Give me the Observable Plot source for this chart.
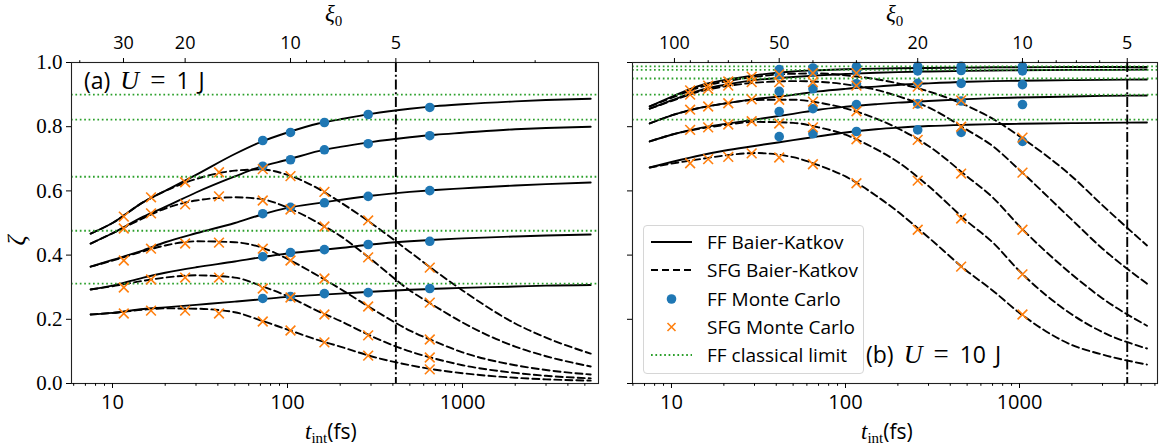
<!DOCTYPE html>
<html><head><meta charset="utf-8">
<script src="https://cdn.jsdelivr.net/npm/d3@7"></script>
<script src="https://cdn.jsdelivr.net/npm/@observablehq/plot@0.6"></script>
<style>
body{margin:0;background:#fff;}
#wrap{position:relative;width:1159px;height:446px;overflow:hidden;background:#fff;}
.p{position:absolute;top:0;}
.lbl{position:absolute;white-space:nowrap;color:#000;line-height:1;}
.sans{font-family:'Open Sans',sans-serif;}
.ser{font-family:'Liberation Serif',serif;}
</style></head><body><div id="wrap"></div>
<script>
// ---------------- data ----------------
const T_GRID = [7.5, 10, 15, 20, 30, 50, 70, 100, 150, 200, 300, 500, 700, 1000, 2000, 3000, 5400];

// (a) U = 1 J : FF Baier-Katkov
const U1_FF_BK_1 = [0.467, 0.50, 0.565, 0.60, 0.65, 0.715, 0.752, 0.782, 0.81, 0.823, 0.84, 0.856, 0.864, 0.87, 0.879, 0.883, 0.887];
const U1_FF_BK_2 = [0.436, 0.468, 0.52, 0.55, 0.595, 0.645, 0.675, 0.697, 0.724, 0.737, 0.752, 0.767, 0.775, 0.781, 0.792, 0.796, 0.80];
const U1_FF_BK_3 = [0.364, 0.385, 0.415, 0.44, 0.468, 0.50, 0.525, 0.547, 0.562, 0.572, 0.585, 0.597, 0.603, 0.608, 0.617, 0.621, 0.626];
const U1_FF_BK_4 = [0.293, 0.305, 0.33, 0.345, 0.362, 0.38, 0.393, 0.405, 0.415, 0.422, 0.433, 0.443, 0.448, 0.452, 0.458, 0.461, 0.464];
const U1_FF_BK_5 = [0.215, 0.22, 0.232, 0.237, 0.245, 0.255, 0.262, 0.27, 0.276, 0.28, 0.286, 0.292, 0.295, 0.298, 0.302, 0.305, 0.307];
// (a) SFG Baier-Katkov
const U1_SFG_BK_1 = [0.467, 0.50, 0.565, 0.60, 0.637, 0.663, 0.667, 0.65, 0.607, 0.565, 0.50, 0.41, 0.35, 0.29, 0.187, 0.143, 0.093];
const U1_SFG_BK_2 = [0.436, 0.468, 0.515, 0.545, 0.57, 0.58, 0.575, 0.548, 0.50, 0.46, 0.387, 0.29, 0.24, 0.19, 0.115, 0.085, 0.053];
const U1_SFG_BK_3 = [0.364, 0.383, 0.412, 0.43, 0.443, 0.44, 0.425, 0.388, 0.335, 0.295, 0.235, 0.165, 0.13, 0.097, 0.057, 0.042, 0.028];
const U1_SFG_BK_4 = [0.293, 0.303, 0.32, 0.33, 0.337, 0.33, 0.305, 0.272, 0.225, 0.195, 0.148, 0.10, 0.077, 0.057, 0.033, 0.024, 0.016];
const U1_SFG_BK_5 = [0.215, 0.22, 0.23, 0.234, 0.233, 0.222, 0.197, 0.168, 0.135, 0.115, 0.085, 0.057, 0.043, 0.032, 0.018, 0.013, 0.009];
const U1_CLASSICAL = [0.900, 0.822, 0.644, 0.476, 0.311];
// (a) Monte Carlo
const U1_MC_FF_T = [72.2, 104, 162.5, 289, 650];
const U1_MC_FF_1 = [0.757, 0.782, 0.813, 0.838, 0.860];
const U1_MC_FF_2 = [0.677, 0.697, 0.728, 0.747, 0.772];
const U1_MC_FF_3 = [0.529, 0.549, 0.563, 0.583, 0.601];
const U1_MC_FF_4 = [0.395, 0.408, 0.417, 0.433, 0.443];
const U1_MC_FF_5 = [0.265, 0.271, 0.280, 0.283, 0.296];
const U1_MC_SFG_T = [11.6, 16.6, 26, 40.6, 72.2, 104, 162.5, 289, 650];
const U1_MC_SFG_1 = [0.520, 0.580, 0.627, 0.658, 0.668, 0.646, 0.597, 0.508, 0.361];
const U1_MC_SFG_2 = [0.483, 0.530, 0.558, 0.583, 0.570, 0.542, 0.489, 0.393, 0.252];
const U1_MC_SFG_3 = [0.383, 0.420, 0.436, 0.439, 0.420, 0.383, 0.327, 0.240, 0.137];
const U1_MC_SFG_4 = [0.299, 0.324, 0.330, 0.330, 0.296, 0.268, 0.215, 0.150, 0.081];
const U1_MC_SFG_5 = [0.218, 0.227, 0.227, 0.218, 0.193, 0.165, 0.128, 0.087, 0.044];

// (b) U = 10 J : FF Baier-Katkov
const U10_FF_BK_1 = [0.863, 0.893, 0.93, 0.945, 0.96, 0.972, 0.976, 0.979, 0.981, 0.982, 0.983, 0.984, 0.985, 0.985, 0.986, 0.986, 0.986];
const U10_FF_BK_2 = [0.856, 0.882, 0.915, 0.93, 0.945, 0.955, 0.96, 0.964, 0.968, 0.97, 0.972, 0.974, 0.975, 0.976, 0.977, 0.977, 0.978];
const U10_FF_BK_3 = [0.81, 0.835, 0.86, 0.872, 0.886, 0.899, 0.91, 0.918, 0.925, 0.93, 0.935, 0.94, 0.942, 0.943, 0.945, 0.946, 0.947];
const U10_FF_BK_4 = [0.754, 0.775, 0.797, 0.808, 0.822, 0.84, 0.853, 0.862, 0.87, 0.875, 0.88, 0.886, 0.889, 0.891, 0.894, 0.896, 0.897];
const U10_FF_BK_5 = [0.673, 0.69, 0.712, 0.725, 0.74, 0.758, 0.77, 0.782, 0.792, 0.797, 0.802, 0.806, 0.808, 0.809, 0.811, 0.812, 0.813];
// (b) SFG Baier-Katkov
const U10_SFG_BK_1 = [0.863, 0.89, 0.925, 0.94, 0.955, 0.965, 0.966, 0.96, 0.948, 0.935, 0.91, 0.865, 0.825, 0.77, 0.645, 0.555, 0.43];
const U10_SFG_BK_2 = [0.856, 0.88, 0.912, 0.925, 0.937, 0.942, 0.94, 0.932, 0.915, 0.895, 0.86, 0.79, 0.74, 0.665, 0.51, 0.42, 0.311];
const U10_SFG_BK_3 = [0.81, 0.835, 0.86, 0.872, 0.883, 0.884, 0.875, 0.857, 0.825, 0.795, 0.74, 0.645, 0.58, 0.49, 0.34, 0.265, 0.18];
const U10_SFG_BK_4 = [0.754, 0.775, 0.795, 0.805, 0.815, 0.812, 0.798, 0.775, 0.73, 0.69, 0.615, 0.505, 0.44, 0.35, 0.215, 0.16, 0.109];
const U10_SFG_BK_5 = [0.673, 0.685, 0.70, 0.71, 0.718, 0.705, 0.68, 0.645, 0.585, 0.535, 0.455, 0.35, 0.29, 0.22, 0.12, 0.09, 0.059];
const U10_CLASSICAL = [0.988, 0.977, 0.950, 0.900, 0.822];
// (b) Monte Carlo
const U10_MC_FF_T = [41.6, 65, 115.6, 260, 462, 1040];
const U10_MC_FF_1 = [0.978, 0.983, 0.987, 0.988, 0.988, 0.988];
const U10_MC_FF_2 = [0.962, 0.970, 0.974, 0.974, 0.975, 0.974];
const U10_MC_FF_3 = [0.910, 0.918, 0.934, 0.935, 0.935, 0.931];
const U10_MC_FF_4 = [0.847, 0.856, 0.869, 0.871, 0.880, 0.869];
const U10_MC_FF_5 = [0.769, 0.778, 0.785, 0.790, 0.782, 0.754];
const U10_MC_SFG_T = [12.8, 16.25, 21.2, 28.9, 41.6, 65, 115.6, 260, 462, 1040];
const U10_MC_SFG_1 = [0.913, 0.928, 0.941, 0.956, 0.963, 0.967, 0.967, 0.925, 0.882, 0.766];
const U10_MC_SFG_2 = [0.900, 0.918, 0.928, 0.939, 0.939, 0.939, 0.928, 0.871, 0.800, 0.657];
const U10_MC_SFG_3 = [0.853, 0.863, 0.873, 0.885, 0.884, 0.878, 0.848, 0.759, 0.654, 0.479];
const U10_MC_SFG_4 = [0.790, 0.798, 0.807, 0.817, 0.810, 0.798, 0.761, 0.632, 0.514, 0.340];
const U10_MC_SFG_5 = [0.686, 0.699, 0.706, 0.717, 0.704, 0.683, 0.624, 0.479, 0.364, 0.215];

// axes / ticks
const XI_TO_T_U1 = 10400;    // t_int = C / xi0^2
const XI_TO_T_U10 = 104000;
const XI_MARK = 5;
const U1_XI_MAJOR = [30, 20, 10, 5];
const U1_XI_MINOR = [40, 9, 8, 7, 6, 4, 3, 2];
const U10_XI_MAJOR = [100, 50, 20, 10, 5];
const U10_XI_MINOR = [90, 80, 70, 60, 40, 30, 9, 8, 7, 6];
const T_MAJOR = [10, 100, 1000];
const T_MINOR = [6, 7, 8, 9, 20, 30, 40, 50, 60, 70, 80, 90, 200, 300, 400, 500, 600, 700, 800, 900, 2000, 3000, 4000, 5000, 6000];
const Z_TICKS = [0, 0.2, 0.4, 0.6, 0.8, 1.0];

// -------------- drawing --------------
const SANS = "'Open Sans', sans-serif";
const SERIF = "'Liberation Serif', serif";

function panel(o) {
  const lineRows = arrs => arrs.flatMap((a, k) => T_GRID.map((t, i) => ({t, z: a[i], k})));
  const ptRows = (ts, arrs) => arrs.flatMap((a, k) => ts.map((t, i) => ({t, z: a[i], k})));
  const inDom = v => v >= o.xDomain[0] && v <= o.xDomain[1];
  const xiT = xi => o.C / (xi * xi);
  const topMajor = o.xiMajor.map(xi => ({xi, t: xiT(xi)})).filter(d => inDom(d.t));
  return Plot.plot({
    width: o.width, height: 446,
    marginLeft: o.ml, marginRight: o.mr, marginTop: 62, marginBottom: 63,
    style: {background: "transparent", fontFamily: SANS, fontSize: "20px", color: "black", overflow: "visible"},
    x: {type: "log", domain: o.xDomain, axis: null},
    y: {domain: [0, 1], axis: null},
    marks: [
      Plot.line(lineRows(o.ff), {x: "t", y: "z", z: "k", stroke: "black", strokeWidth: 1.9, curve: "monotone-x"}),
      Plot.line(lineRows(o.sfg), {x: "t", y: "z", z: "k", stroke: "black", strokeWidth: 1.9, strokeDasharray: "7,4", curve: "monotone-x"}),
      Plot.ruleY(o.classical, {stroke: "#2ca02c", strokeWidth: 1.9, strokeDasharray: "1.7,2.7"}),
      Plot.ruleX([xiT(XI_MARK)], {stroke: "black", strokeWidth: 1.9, strokeDasharray: "10,2.8,1.9,2.8"}),
      Plot.dot(ptRows(o.mcFFt, o.mcFF), {x: "t", y: "z", fill: "#1f77b4", r: 4.8}),
      Plot.dot(ptRows(o.mcSFGt, o.mcSFG), {x: "t", y: "z", symbol: "times", stroke: "#ff7f0e", strokeWidth: 1.6, r: 4.5}),
      Plot.frame({stroke: "#222", strokeWidth: 1.1}),
      Plot.axisX({anchor: "bottom", ticks: T_MAJOR, tickSize: 5, tickPadding: 6, tickFormat: d => String(d), label: null, fontSize: 20, fontFamily: SANS}),
      Plot.axisX({anchor: "bottom", ticks: T_MINOR.filter(inDom), tickSize: 2.8, tickFormat: () => "", label: null}),
      Plot.axisX({anchor: "top", ticks: topMajor.map(d => d.t), tickSize: 5, tickFormat: () => "", label: null}),
      Plot.axisX({anchor: "top", ticks: o.xiMinor.map(xiT).filter(inDom), tickSize: 2.8, tickFormat: () => "", label: null}),
      Plot.text(topMajor, {x: "t", text: d => String(d.xi), frameAnchor: "top", dy: -19, fontSize: 18, fontFamily: SANS, fill: "black", lineAnchor: "middle"}),
      Plot.axisY({anchor: "left", ticks: Z_TICKS, tickSize: 5, tickPadding: 4, tickFormat: o.showY ? (d => d.toFixed(1)) : (() => ""), label: null, fontSize: 21, fontFamily: SERIF})
    ]
  });
}

const wrap = document.getElementById("wrap");
function place(el, left) { el.classList.add("p"); el.style.left = left + "px"; wrap.appendChild(el); }

place(panel({
  width: 610, ml: 71, mr: 12, xDomain: [5.83, 5984], showY: true, C: XI_TO_T_U1,
  xiMajor: U1_XI_MAJOR, xiMinor: U1_XI_MINOR,
  ff: [U1_FF_BK_1, U1_FF_BK_2, U1_FF_BK_3, U1_FF_BK_4, U1_FF_BK_5],
  sfg: [U1_SFG_BK_1, U1_SFG_BK_2, U1_SFG_BK_3, U1_SFG_BK_4, U1_SFG_BK_5],
  classical: U1_CLASSICAL,
  mcFFt: U1_MC_FF_T, mcFF: [U1_MC_FF_1, U1_MC_FF_2, U1_MC_FF_3, U1_MC_FF_4, U1_MC_FF_5],
  mcSFGt: U1_MC_SFG_T, mcSFG: [U1_MC_SFG_1, U1_MC_SFG_2, U1_MC_SFG_3, U1_MC_SFG_4, U1_MC_SFG_5]
}), 0);

place(panel({
  width: 549, ml: 22, mr: 2, xDomain: [5.97, 6209], showY: false, C: XI_TO_T_U10,
  xiMajor: U10_XI_MAJOR, xiMinor: U10_XI_MINOR,
  ff: [U10_FF_BK_1, U10_FF_BK_2, U10_FF_BK_3, U10_FF_BK_4, U10_FF_BK_5],
  sfg: [U10_SFG_BK_1, U10_SFG_BK_2, U10_SFG_BK_3, U10_SFG_BK_4, U10_SFG_BK_5],
  classical: U10_CLASSICAL,
  mcFFt: U10_MC_FF_T, mcFF: [U10_MC_FF_1, U10_MC_FF_2, U10_MC_FF_3, U10_MC_FF_4, U10_MC_FF_5],
  mcSFGt: U10_MC_SFG_T, mcSFG: [U10_MC_SFG_1, U10_MC_SFG_2, U10_MC_SFG_3, U10_MC_SFG_4, U10_MC_SFG_5]
}), 610);

// -------------- text labels --------------
function label(html, css) {
  const d = document.createElement("div");
  d.className = "lbl";
  d.innerHTML = html;
  d.style.cssText += css;
  wrap.appendChild(d);
  return d;
}
const tLabel = '<i class="ser" style="font-size:23px">t</i><span class="ser" style="font-size:15px;position:relative;top:4px">int</span><span class="sans" style="font-size:21px">(fs)</span>';
label(tLabel, "left:305px;top:420px;");
label(tLabel, "left:861px;top:420px;");
const xiLabel = '<i class="ser" style="font-size:23px">ξ</i><span class="ser" style="font-size:15px;position:relative;top:5px">0</span>';
label(xiLabel, "left:325px;top:2px;");
label(xiLabel, "left:886px;top:2px;");
label('<i class="ser" style="font-size:25px">ζ</i>', "left:11px;top:228px;transform:rotate(-90deg);");
function panelTag(letter, u) {
  return `<span class="sans" style="font-size:23px">(${letter})</span>` +
    `<i class="ser" style="font-size:26px;margin-left:10px">U</i>` +
    `<span class="ser" style="font-size:27px;margin-left:11px">=</span>` +
    `<span class="sans" style="font-size:23px;margin-left:11px">${u}</span>` +
    `<span class="sans" style="font-size:23px;margin-left:9px">J</span>`;
}
label(panelTag("a", "1"), "left:84px;top:67px;");
label(panelTag("b", "10"), "left:866px;top:341px;");

// -------------- legend --------------
const LEGEND = [
  {text: "FF Baier-Katkov", kind: "solid"},
  {text: "SFG Baier-Katkov", kind: "dashed"},
  {text: "FF Monte Carlo", kind: "dot"},
  {text: "SFG Monte Carlo", kind: "cross"},
  {text: "FF classical limit", kind: "dotted"}
];
const leg = document.createElement("div");
leg.style.cssText = "position:absolute;left:643px;top:225px;width:219px;height:147px;border:1px solid #d6d6d6;border-radius:4px;background:rgba(255,255,255,0.85);";
wrap.appendChild(leg);
LEGEND.forEach((it, i) => {
  const cy = 16 + i * 28.25;
  let sw = "";
  if (it.kind === "solid") sw = '<line x1="0" x2="41" y1="10" y2="10" stroke="black" stroke-width="1.9"/>';
  if (it.kind === "dashed") sw = '<line x1="0" x2="41" y1="10" y2="10" stroke="black" stroke-width="1.9" stroke-dasharray="7,4"/>';
  if (it.kind === "dot") sw = '<circle cx="20.5" cy="10" r="4.8" fill="#1f77b4"/>';
  if (it.kind === "cross") sw = '<path d="M16.5,6L24.5,14M16.5,14L24.5,6" stroke="#ff7f0e" stroke-width="1.6"/>';
  if (it.kind === "dotted") sw = '<line x1="0" x2="41" y1="10" y2="10" stroke="#2ca02c" stroke-width="1.9" stroke-dasharray="1.7,2.7"/>';
  const row = document.createElement("div");
  row.style.cssText = `position:absolute;left:0;top:${cy - 12}px;height:24px;width:219px;`;
  row.innerHTML = `<svg width="41" height="20" style="position:absolute;left:7px;top:2px">${sw}</svg><span class="sans" style="position:absolute;left:63px;top:0;line-height:24px;font-size:19px;white-space:nowrap">${it.text}</span>`;
  leg.appendChild(row);
});
</script></body></html>
